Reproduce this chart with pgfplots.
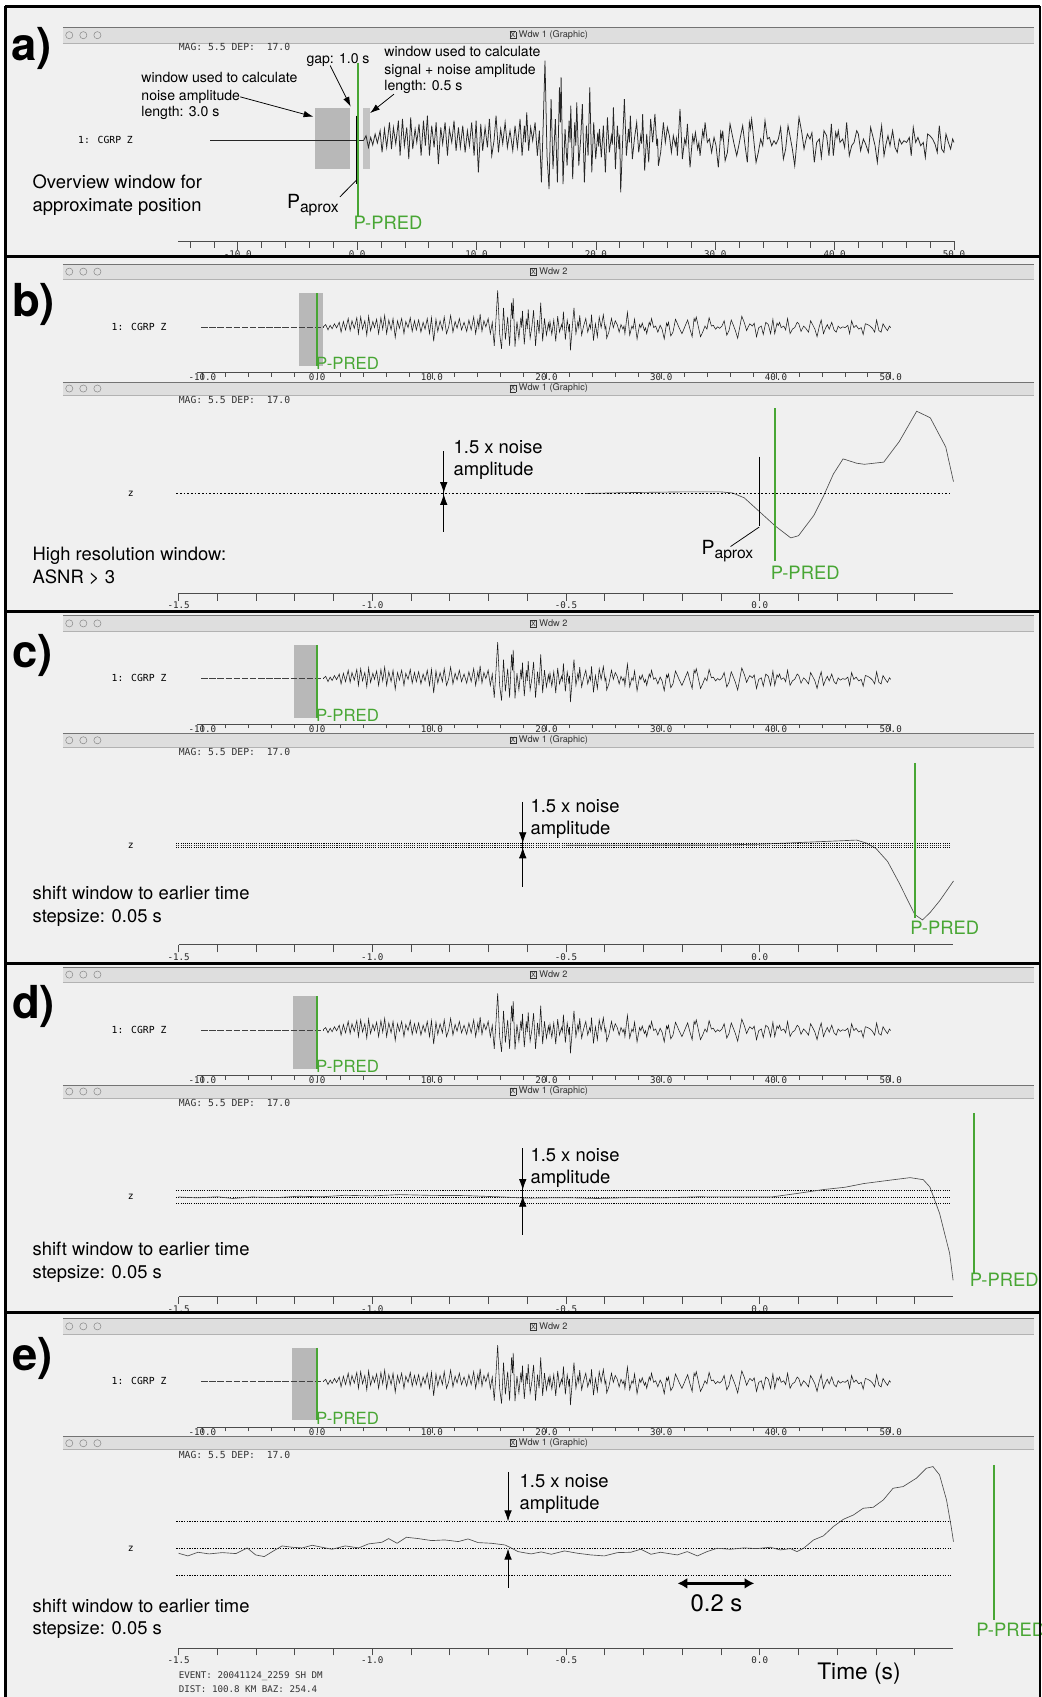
\documentclass[border=0pt]{standalone}
\usepackage{pgfplots}
\pgfplotsset{compat=1.18}
\usepackage{pgfplotstable}
\usepackage{fontspec}
\setmainfont{TeX Gyre Heros}
\newfontfamily\monof{DejaVu Sans Mono}
\usetikzlibrary{arrows.meta}
\definecolor{ppred}{RGB}{72,166,52}
\definecolor{bgc}{RGB}{240,240,240}
\definecolor{barc}{RGB}{222,222,222}
\definecolor{boxg}{RGB}{184,184,184}
\newcommand\fs[1]{\fontsize{#1}{#1}\selectfont}
\setlength\fboxsep{0.7pt}
\setlength\fboxrule{0.3pt}

\pgfplotstableread{
t a
0.53 0
0.75 5
0.95 -6.7
1.14 3.3
1.31 -4.3
1.51 6.7
1.70 -2.3
1.93 10
2.09 -11.7
2.29 11.7
2.48 -6.7
2.71 18.3
2.88 -8.3
3.04 13.3
3.24 -3.3
3.46 20
3.60 -15
3.80 21.7
3.96 -5
4.16 13.3
4.33 -18.3
4.49 23.3
4.66 -8.3
4.86 11.7
5.00 -1.7
5.19 16.7
5.36 -15
5.56 20
5.72 -5
5.89 25
6.06 -15
6.25 15
6.45 -6.7
6.62 18.3
6.81 -23.3
7.01 13.3
7.17 -3.3
7.37 18.3
7.57 -15
7.73 11.7
7.93 -1.7
8.12 20
8.29 -10
8.49 13.3
8.65 -6.7
8.85 15
9.05 -11.7
9.24 10
9.41 -5
9.60 18.3
9.80 -15
9.97 20
10.16 -31.7
10.36 16.7
10.52 -10
10.72 13.3
10.92 -6.7
11.08 21.7
11.28 -15
11.47 0
11.64 25
11.84 -11.7
12.03 11.7
12.20 -3
12.40 18.3
12.59 -6.7
12.81 10
13.04 -10
13.23 15
13.43 -6.7
13.65 21.7
13.82 -15
14.01 15
14.10 -1.7
14.21 28.3
14.37 -10
14.54 13.3
14.71 0
14.91 18.3
15.10 -15
15.27 10
15.44 -41.7
15.60 20
15.74 80
15.91 -15
16.08 -48.3
16.25 41.7
16.41 -28.3
16.61 21.7
16.78 -41.7
16.95 53.3
17.03 18.3
17.09 63.3
17.25 -43.3
17.42 11.7
17.59 -25
17.76 20
17.84 -1.7
17.90 35
18.06 -38.3
18.23 18.3
18.32 -5
18.40 38.3
18.57 -25
18.73 1.7
18.87 36.7
19.04 -41.7
19.21 15
19.35 -15
19.49 53.3
19.66 -31.7
19.82 18.3
19.99 -18.3
20.16 8
20.24 -6
20.30 11.7
20.46 -16.7
20.63 15
20.80 -31.7
20.97 23.3
21.13 -11.7
21.30 5
21.38 -4
21.47 33.3
21.64 -28.3
21.80 15
21.94 -8.3
22.00 6
22.08 -51.7
22.25 1.7
22.39 41.7
22.56 -15
22.73 11.7
22.81 -1.7
22.89 25
23.06 -18.3
23.23 1.7
23.42 18.3
23.59 -11.7
23.76 5
23.84 -3
23.92 26.7
24.09 -30
24.26 6.7
24.43 -21.7
24.59 21.7
24.76 -1.7
24.95 26.7
25.10 -5
25.17 2
25.24 -25
25.43 -11.7
25.66 18.3
25.82 -1.7
25.99 13.3
26.16 5
26.33 -11.7
26.49 5
26.66 -5
26.75 2
26.83 -15
27.05 31.7
27.25 -18.3
27.44 1.7
27.55 -4
27.67 16.7
27.89 -26.7
28.11 5
28.22 -2
28.34 8.3
28.53 -8.3
28.63 -2
28.73 -15
28.95 10
29.05 3
29.15 18.3
29.34 -1.7
29.51 1.7
29.70 -11.7
29.90 3.3
30.07 -5
30.26 -26.7
30.46 8.3
30.55 2
30.63 10
30.83 -20
31.02 -11.7
31.24 16.7
31.41 6.7
31.58 -3.3
31.80 -15
31.97 -5
32.13 5
32.30 15
32.50 -5
32.69 -21.7
32.86 18.3
32.95 12
33.05 21.7
33.22 1.7
33.42 -21.7
33.61 -11.7
33.81 1.7
33.98 -5
34.17 20
34.37 1.7
34.54 3.3
34.73 -5
34.92 0
35.09 -3.3
35.29 1.7
35.48 13.3
35.71 -18.3
35.90 -8.3
36.10 15
36.26 5
36.46 -8.3
36.66 -25
36.82 -3.3
37.02 23.3
37.25 8.3
37.44 -8.3
37.58 0
37.72 6.7
37.94 1.7
38.10 8
38.30 -21.7
38.50 -1.7
38.72 1.7
38.89 -16.7
39.11 10
39.33 5
39.53 -15
39.73 16.7
39.89 -15
40.09 8.3
40.20 3
40.31 10
40.45 -1.7
40.68 1.7
40.84 -6.7
41.01 18.3
41.23 -15
41.43 -5
41.63 -1.7
41.85 10
41.99 6.7
42.18 -10
42.41 1.7
42.60 -3.3
42.83 -11.7
43.02 13.3
43.19 5
43.39 -5
43.58 -21.7
43.75 -1.7
43.94 15
44.14 -15
44.31 -3.3
44.47 5
44.64 -5
44.86 10
45.06 -6.7
45.25 -11.7
45.42 1.7
45.61 -3.3
45.81 0
46.03 -1.7
46.26 3.3
46.42 -15
46.59 13.3
46.79 -1.7
46.98 3.3
47.21 -5
47.43 -1.7
47.60 -16.7
47.79 6.7
47.99 5
48.21 1.7
48.41 -3.3
48.60 -11.7
48.77 15
48.97 -8.3
49.16 -11.7
49.33 6.7
49.53 -1.7
49.72 -8.3
49.89 1.7
50.00 -1.7
}\trace

\pgfplotsset{
  win/.style={scale only axis, clip=false, anchor=south west,
    axis y line=none, axis x line=bottom, ytick=\empty,
    axis line style={-, line width=0.7pt, black!70},
    tick style={line width=0.6pt, black!70},
    tick align=outside,
    xticklabel style={font=\fs{8.5}\monof, text=black!85, inner sep=0pt}},
  ov/.style={win, x=10.6pt, y=0.42pt, xmin=-10.5, xmax=50, ymin=-100, ymax=100,
    xtick={-10,0,10,20,30,40,50},
    xticklabels={-10.0,0.0,10.0,20.0,30.0,40.0,50.0},
    minor xtick={-8,-6,...,48},
    major tick length=6pt, minor tick length=4pt, xticklabel shift=-5pt},
  det/.style={win, x=358pt, y=1pt, xmin=-1.5, xmax=0.5, ymin=-92, ymax=95,
    xtick={-1.5,-1,-0.5,0},
    xticklabels={-1.5,-1.0,-0.5,0.0},
    minor xtick={-1.4,-1.3,-1.2,-1.1,-0.9,-0.8,-0.7,-0.6,-0.4,-0.3,-0.2,-0.1,0.1,0.2,0.3,0.4},
    major tick length=7pt, minor tick length=7pt, xticklabel shift=1pt},
}

\newcommand\titlebar[3]{%
  \fill[barc] (58,{#1}) rectangle (955,{#2});
  \draw[black!55, line width=0.8pt] (58,{#1}) -- (955,{#1});
  \draw[black!30, line width=0.5pt] (58,{#2}) -- (955,{#2});
  \foreach \cx in {64,77,90} {\draw[black!45, line width=0.5pt] (\cx,{(#1+#2)/2}) circle[radius=3.3pt];}
  \node[font=\fs{8.5}, text=black!80] at (507,{(#1+#2)/2}) {\fbox{\fs{6.5}X}\ #3};
}

\newcommand\overviewpanel[4]{%
  \titlebar{244+#1}{258+#1}{Wdw 2}
  \node[anchor=base west, font={\fs{42}\bfseries}] at (11,{292+#1}) {#2)};
  \node[anchor=base west, font={\fs{9}\monof}] at (103,{305+#1}) {1: CGRP Z};
  \begin{axis}[ov, at={(181.7pt,{-344pt-#1pt})}]
    \fill[boxg] (axis cs:#3,73.8) rectangle (axis cs:#4,-85.7);
    \addplot[black!75, line width=0.5pt, dash pattern=on 6pt off 1.5pt] coordinates {(-10.1,0) (0.53,0)};
    \addplot[black!90, line width=0.5pt] table[x=t,y=a] {\trace};
    \addplot[ppred, line width=1.6pt] coordinates {(0,73.8) (0,-85.7)};
  \end{axis}
  \node[anchor=base west, text=ppred, font=\fs{15.5}] at (292,{341.5+#1}) {P-PRED};
  \titlebar{353+#1}{365+#1}{Wdw 1 (Graphic)}
  \node[anchor=base west, font={\fs{9}\monof}, text=black!80] at (165,{373+#1}) {MAG: 5.5 DEP:\ \ 17.0};
  \node[anchor=base west, font={\fs{9}\monof}] at (118,{459+#1}) {z};
}

\begin{document}
\begin{tikzpicture}[x=1pt, y=-1pt, every node/.style={inner sep=0pt}]
\path[use as bounding box] (0,0) rectangle (962,1568);
\fill[white] (0,0) rectangle (962,1568);
\fill[bgc] (5,6) rectangle (961,1570);

% ================= panel a =================
\titlebar{25}{40}{Wdw 1 (Graphic)}
\node[anchor=base west, font={\fs{42}\bfseries}] at (10,56) {a)};
\node[anchor=base west, font={\fs{9}\monof}, text=black!80] at (165,47) {MAG: 5.5 DEP:\ \ 17.0};
\node[anchor=base west, font={\fs{9}\monof}] at (72,133) {1: CGRP Z};
\begin{axis}[win, x=11.03pt, y=0.924pt, xmin=-15, xmax=50, ymin=-100.3, ymax=100,
   at={(164.5pt,-222.7pt)},
   xtick={-10,0,...,50}, xticklabels={-10.0,0.0,10.0,20.0,30.0,40.0,50.0},
   minor xtick={-14,-12,...,48}, major tick length=8pt, minor tick length=6pt, xticklabel shift=1pt]
 \fill[boxg] (axis cs:-3.54,33) rectangle (axis cs:-0.59,-28);
 \fill[boxg!85!white] (axis cs:0.5,33) rectangle (axis cs:1.09,-28);
 \addplot[black!85, line width=0.6pt] coordinates {(-12.3,0) (0.53,0)};
 \addplot[black!85, line width=0.7pt] table[x=t,y=a] {\trace};
 \addplot[ppred, line width=1.8pt] coordinates {(0.1,78) (0.1,-75)};
 \addplot[black, line width=1.2pt] coordinates {(-0.03,25) (-0.03,-43)};
\end{axis}
\node[anchor=base west, font=\fs{13}] at (283,58.5) {gap: 1.0 s};
\draw[line width=0.7pt, -{Latex[length=9pt,width=6pt]}] (305,60.5) -- (324,98.5);
\node[anchor=base west, font=\fs{13}] at (355,52.5) {window used to calculate};
\node[anchor=base west, font=\fs{13}] at (355,68.5) {signal + noise amplitude};
\node[anchor=base west, font=\fs{13}] at (355,84) {length: 0.5 s};
\draw[line width=0.7pt, -{Latex[length=9pt,width=6pt]}] (364,87) -- (342,104.5);
\node[anchor=base west, font=\fs{13}] at (130.5,76.5) {window used to calculate};
\node[anchor=base west, font=\fs{13}] at (130.5,92.5) {noise amplitude};
\node[anchor=base west, font=\fs{13}] at (130.5,107.5) {length: 3.0 s};
\draw[line width=0.7pt, -{Latex[length=9pt,width=6pt]}] (222,89.5) -- (289.5,107.8);
\node[anchor=base west, font=\fs{17}] at (30,174) {Overview window for};
\node[anchor=base west, font=\fs{17}] at (30,195.5) {approximate position};
\node[anchor=base west, font=\fs{18}] at (265,192.5) {P\raisebox{-4pt}{\fs{14.5}aprox}};
\draw[line width=0.7pt] (314,182) -- (329.8,166);
\node[anchor=base west, text=ppred, font=\fs{17}] at (326.5,212) {P-PRED};

% ================= panel b =================
\overviewpanel{0}{b}{-1.6}{0.47}
\begin{axis}[det, at={(165pt,-548pt)}]
 \addplot[black!70, line width=0.6pt] coordinates {(-0.45,0) (-0.35,0.8) (-0.2,1.5) (-0.1,1.5) (-0.07,0.5) (-0.04,-4) (0,-17) (0.04,-30) (0.08,-41) (0.1,-39) (0.14,-20) (0.165,-2) (0.19,18) (0.215,32) (0.25,28) (0.27,27) (0.32,29) (0.36,48) (0.405,76) (0.44,70) (0.48,43) (0.5,11)};
 \addplot[black, line width=1.6pt, dash pattern=on 1.6pt off 1.8pt] coordinates {(-1.506,0) (0.492,0)};
 \addplot[black, line width=0.9pt] coordinates {(0,34) (0,-30)};
 \addplot[ppred, line width=1.8pt] coordinates {(0.039,79) (0.039,-62)};
\end{axis}
\draw[line width=0.7pt] (410,417) -- (410,492);
\draw[line width=0.7pt, -{Latex[length=10pt,width=7pt]}] (410,440) -- (410,455.5);
\draw[line width=0.7pt, -{Latex[length=10pt,width=7pt]}] (410,475) -- (410,456.5);
\node[anchor=base west, font=\fs{17}] at (419,419) {1.5 x noise};
\node[anchor=base west, font=\fs{17}] at (419,439.5) {amplitude};
\draw[line width=0.7pt] (701.5,487) -- (675,505);
\node[anchor=base west, font=\fs{18}] at (648,512.5) {P\raisebox{-4pt}{\fs{14.5}aprox}};
\node[anchor=base west, text=ppred, font=\fs{17}] at (712,535) {P-PRED};
\node[anchor=base west, font=\fs{17}] at (30,518) {High resolution window:};
\node[anchor=base west, font=\fs{17}] at (30,539) {ASNR > 3};

% ================= panel c =================
\overviewpanel{325}{c}{-1.98}{0}
\begin{axis}[det, at={(165pt,-873pt)}]
 \addplot[black!70, line width=0.6pt] coordinates {(-0.5,0) (-0.1,0.3) (0.0,1) (0.1,2.5) (0.2,4) (0.25,4.8) (0.275,2) (0.3,-3) (0.33,-15) (0.36,-35) (0.4,-64) (0.42,-69) (0.44,-62) (0.465,-51) (0.5,-33)};
 \addplot[black, line width=0.9pt, dash pattern=on 1pt off 1pt] coordinates {(-1.506,2) (0.492,2)};
 \addplot[black, line width=0.9pt, dash pattern=on 1pt off 1pt] coordinates {(-1.506,-2) (0.492,-2)};
 \addplot[black!80, line width=0.9pt, dash pattern=on 1pt off 1pt] coordinates {(-1.506,0) (0.492,0)};
 \addplot[ppred, line width=1.8pt] coordinates {(0.401,76) (0.401,-67)};
\end{axis}
\draw[line width=0.7pt] (483,741) -- (483,819.5);
\draw[line width=0.7pt, -{Latex[length=10pt,width=7pt]}] (483,765) -- (483,779);
\draw[line width=0.7pt, -{Latex[length=10pt,width=7pt]}] (483,797) -- (483,783);
\node[anchor=base west, font=\fs{17}] at (490,751) {1.5 x noise};
\node[anchor=base west, font=\fs{17}] at (490,771.5) {amplitude};
\node[anchor=base west, text=ppred, font=\fs{17}] at (841,863) {P-PRED};
\node[anchor=base west, font=\fs{17}] at (30,831) {shift window to earlier time};
\node[anchor=base west, font=\fs{17}] at (30,852) {stepsize: 0.05 s};

% ================= panel d =================
\overviewpanel{649.5}{d}{-2.08}{0}
\begin{axis}[det, at={(165pt,-1198pt)}]
 \addplot[black, line width=0.7pt, dash pattern=on 1pt off 1pt] coordinates {(-1.506,6.2) (0.492,6.2)};
 \addplot[black, line width=0.7pt, dash pattern=on 1pt off 1pt] coordinates {(-1.506,0) (0.492,0)};
 \addplot[black, line width=0.7pt, dash pattern=on 1pt off 1pt] coordinates {(-1.506,-5.5) (0.492,-5.5)};
 \addplot[black!70, line width=0.6pt] coordinates {(-1.5,0) (-1.45,-0.8) (-1.40,0.2) (-1.36,-1.4) (-1.31,0) (-1.25,-0.6) (-1.19,0.7) (-1.13,0.2) (-1.07,1.6) (-1.0,1.0) (-0.93,2.2) (-0.85,1.5) (-0.76,1.3) (-0.70,0.5) (-0.66,0) (-0.62,-0.8) (-0.59,-1.1) (-0.5,-0.6) (-0.42,-1.4) (-0.33,-0.5) (-0.25,-0.8) (-0.16,0.2) (-0.075,0) (0.03,0) (0.095,3.2) (0.165,6.9) (0.22,9) (0.268,12.4) (0.335,15.5) (0.388,17.9) (0.422,16) (0.439,9.3) (0.464,-15) (0.490,-52) (0.499,-77)};
 \addplot[ppred, line width=1.8pt] coordinates {(0.553,77.3) (0.553,-70.6)};
\end{axis}
\draw[line width=0.7pt] (483,1061) -- (483,1141);
\draw[line width=0.7pt, -{Latex[length=10pt,width=7pt]}] (483,1085) -- (483,1099.5);
\draw[line width=0.7pt, -{Latex[length=10pt,width=7pt]}] (483,1120) -- (483,1105);
\node[anchor=base west, font=\fs{17}] at (490,1073) {1.5 x noise};
\node[anchor=base west, font=\fs{17}] at (490,1093.5) {amplitude};
\node[anchor=base west, text=ppred, font=\fs{17}] at (896,1189) {P-PRED};
\node[anchor=base west, font=\fs{17}] at (30,1160) {shift window to earlier time};
\node[anchor=base west, font=\fs{17}] at (30,1181.5) {stepsize: 0.05 s};

% ================= panel e =================
\overviewpanel{974.5}{e}{-2.17}{0}
\begin{axis}[det, at={(165pt,-1522.6pt)}]
 \addplot[black, line width=0.7pt, dash pattern=on 1.2pt off 1.2pt] coordinates {(-1.506,25.3) (0.492,25.3)};
 \addplot[black, line width=0.7pt, dash pattern=on 1.2pt off 1.2pt] coordinates {(-1.506,0) (0.492,0)};
 \addplot[black, line width=0.7pt, dash pattern=on 1.2pt off 1.2pt] coordinates {(-1.506,-24.6) (0.492,-24.6)};
 \addplot[black!70, line width=0.6pt] coordinates {(-1.50,-4.58) (-1.476,-7.04) (-1.450,-3.65) (-1.421,-5.19) (-1.387,-3.96) (-1.352,-4.88) (-1.323,0.35) (-1.301,-6.12) (-1.279,-7.66) (-1.255,-2.42) (-1.233,2.20) (-1.207,0.97) (-1.181,0.35) (-1.155,2.82) (-1.130,0.97) (-1.104,-0.88) (-1.070,2.20) (-1.035,0.35) (-1.010,4.05) (-0.975,5.59) (-0.958,8.97) (-0.936,4.66) (-0.912,10.21) (-0.881,8.97) (-0.847,7.13) (-0.813,7.74) (-0.778,6.20) (-0.753,8.67) (-0.727,5.28) (-0.693,4.66) (-0.658,3.12) (-0.645,0.97) (-0.624,-3.04) (-0.590,-5.19) (-0.564,-3.34) (-0.538,-5.50) (-0.504,-2.42) (-0.470,-4.58) (-0.436,-6.12) (-0.401,-7.04) (-0.367,-3.96) (-0.333,-3.65) (-0.307,-0.88) (-0.281,-5.50) (-0.256,-3.65) (-0.213,-6.12) (-0.187,-3.04) (-0.161,-7.04) (-0.136,-3.04) (-0.110,0.04) (-0.076,-0.88) (-0.041,0.35) (-0.007,-0.26) (0.027,0.97) (0.053,-1.50) (0.079,-0.26) (0.096,-3.04) (0.113,0.04) (0.139,7.74) (0.164,11.44) (0.190,20.07) (0.216,26.84) (0.242,30.85) (0.267,37.01) (0.293,37.93) (0.319,44.71) (0.344,55.49) (0.370,57.03) (0.404,64.73) (0.430,73.97) (0.447,75.51) (0.464,67.81) (0.482,44.71) (0.494,20.07) (0.500,6.20)};
 \addplot[ppred, line width=1.8pt] coordinates {(0.605,77) (0.605,-66)};
\end{axis}
\draw[line width=0.7pt, -{Latex[length=10pt,width=7pt]}] (469.4,1360) -- (469.4,1405.6);
\draw[line width=0.7pt, -{Latex[length=10pt,width=7pt]}] (469.4,1467) -- (469.4,1431);
\node[anchor=base west, font=\fs{17}] at (480,1374) {1.5 x noise};
\node[anchor=base west, font=\fs{17}] at (480,1394.5) {amplitude};
\draw[line width=2.2pt, {Latex[length=9pt,width=10pt]}-{Latex[length=9pt,width=10pt]}] (626,1463) -- (697,1463);
\node[font=\fs{22}] at (662,1481) {0.2 s};
\node[anchor=base west, text=ppred, font=\fs{17}] at (902,1512) {P-PRED};
\node[anchor=base west, font=\fs{17}] at (30,1490) {shift window to earlier time};
\node[anchor=base west, font=\fs{17}] at (30,1510.5) {stepsize: 0.05 s};
\node[anchor=base west, font=\fs{21}] at (755,1552) {Time (s)};
\node[anchor=base west, font={\fs{8.5}\monof}, text=black!80] at (165,1551) {EVENT: 20041124\_2259 SH DM};
\node[anchor=base west, font={\fs{8.5}\monof}, text=black!80] at (165,1564) {DIST: 100.8 KM BAZ: 254.4};

% ================= frames =================
\draw[line width=2.6pt] (5,6) -- (961,6);
\draw[line width=2.6pt] (5,6) -- (5,1575);
\draw[line width=2.6pt] (961,6) -- (961,1575);
\foreach \yy in {237,565,890,1213} {\draw[line width=2.6pt] (5,\yy) -- (961,\yy);}
\end{tikzpicture}
\end{document}
